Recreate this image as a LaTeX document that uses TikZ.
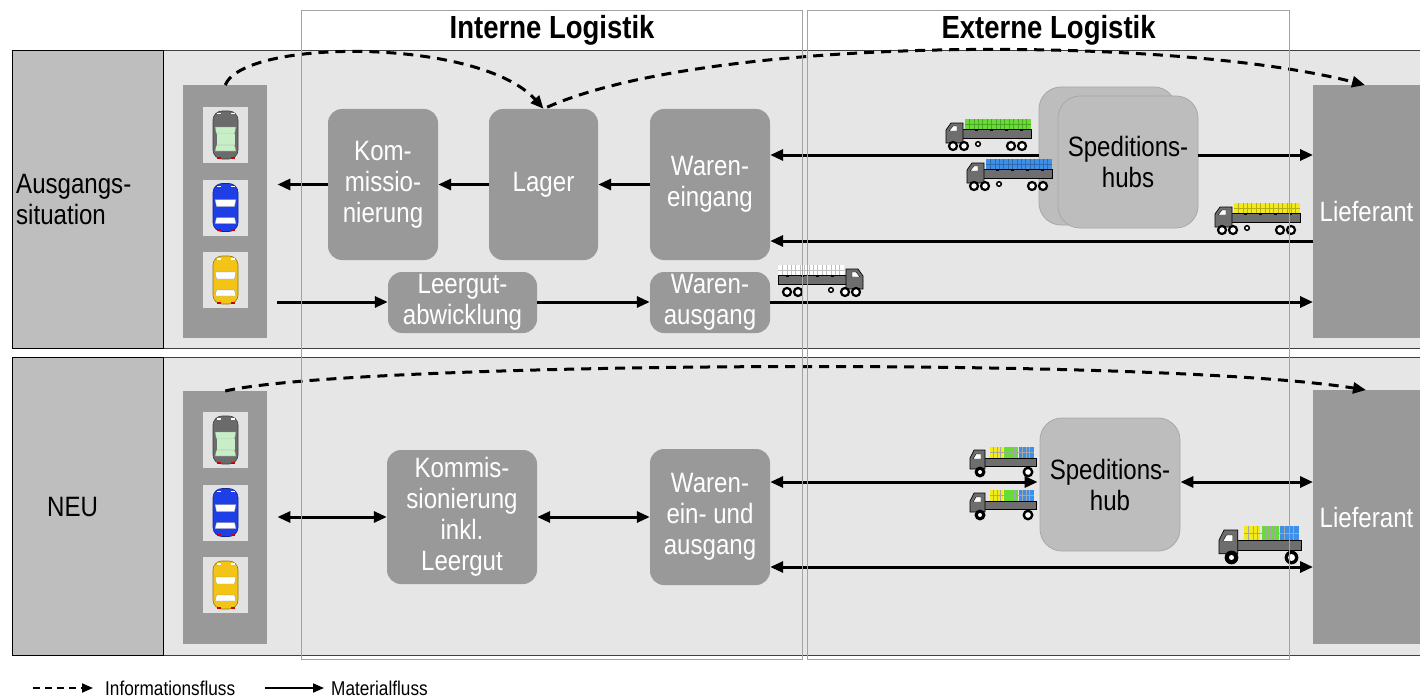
\documentclass[tikz,border=0pt]{standalone}
\usepackage{fontspec}
\setmainfont[FakeStretch=0.86]{Liberation Sans}
\usetikzlibrary{arrows.meta}

\definecolor{panelbg}{HTML}{E6E6E6}
\definecolor{labelbg}{HTML}{BEBEBE}
\definecolor{boxgray}{HTML}{999999}
\definecolor{slotbg}{HTML}{E2E2E2}
\definecolor{hubbg}{HTML}{BDBDBD}
\definecolor{hubline}{HTML}{A8A8A8}
\definecolor{framegray}{HTML}{A3A3A3}
\definecolor{truckgray}{HTML}{6E6E6E}
\definecolor{crategreen}{HTML}{66DD33}
\definecolor{crateblue}{HTML}{3D8FE8}
\definecolor{crateyellow}{HTML}{F2EA1A}
\definecolor{carblue}{HTML}{1F3FE6}
\definecolor{caryellow}{HTML}{F3C416}
\definecolor{cargreen}{HTML}{C8EEC8}
\definecolor{cargray}{HTML}{6B6B6B}

\newcommand{\procfont}{\fontsize{28}{31}\selectfont}
\newcommand{\headfont}{\fontsize{32}{36}\selectfont\bfseries}
\newcommand{\legendfont}{\fontsize{20}{23}\selectfont}

\tikzset{
  panel/.style={draw=black!75, line width=1.4pt, fill=panelbg, anchor=north west, inner sep=0pt},
  rowlabel/.style={draw=black, line width=1.4pt, fill=labelbg, anchor=north west, inner sep=0pt},
  labeltext/.style={font=\procfont, text=black, align=left, inner sep=2pt},
  column/.style={fill=boxgray, anchor=north west, inner sep=0pt, minimum width=84pt, minimum height=253pt},
  slot/.style={fill=slotbg, inner sep=0pt, minimum width=45pt, minimum height=56pt},
  proc/.style={fill=boxgray, rounded corners=14pt, text=white, align=center, font=\procfont, inner sep=0pt},
  hub/.style={fill=hubbg, draw=hubline, line width=0.8pt, rounded corners=22pt, text=black, align=center, font=\procfont, inner sep=0pt},
  supplier/.style={fill=boxgray, text=white, font=\procfont, anchor=north west, inner sep=0pt},
  frame/.style={draw=framegray, line width=1.2pt, anchor=north west, inner sep=0pt},
  headtext/.style={font=\headfont, text=black},
  mat/.style={draw=black, line width=3pt, -{Triangle[length=13pt,width=11pt]}},
  matboth/.style={draw=black, line width=3pt, {Triangle[length=13pt,width=11pt]}-{Triangle[length=13pt,width=11pt]}},
  info/.style={draw=black, line width=3pt, dash pattern=on 10pt off 7pt, -{Triangle[length=13pt,width=11pt]}},
  legendmat/.style={draw=black, line width=1.8pt, -{Triangle[length=11pt,width=9pt]}},
  legendinfo/.style={draw=black, line width=1.8pt, dash pattern=on 7pt off 5pt, -{Triangle[length=11pt,width=9pt]}},
  legendtext/.style={font=\legendfont, text=black, anchor=west, inner sep=0pt},
  % top view of a car: body colour, window colour, roof colour
  pics/auto/.style n args={3}{code={
    \filldraw[fill=#1, draw=#1!60!black, line width=0.6pt, rounded corners=9pt] (-12.5,-24) rectangle (12.5,24);
    \fill[white] (-9,-22) rectangle (-5,-20.5);
    \fill[white] (5,-22) rectangle (9,-20.5);
    \filldraw[fill=#2, draw=black!45, line width=0.3pt] (-10.5,-8) -- (10.5,-8) -- (9,-1) -- (-9,-1) -- cycle;
    \fill[#3] (-9,-1) rectangle (9,10);
    \filldraw[fill=#2, draw=black!45, line width=0.3pt] (-9,10) -- (9,10) -- (10.5,16) -- (-10.5,16) -- cycle;
    \fill[red!80!black] (-9,21.5) rectangle (-5,23.5);
    \fill[red!80!black] (5,21.5) rectangle (9,23.5);
  }},
  % side view of a lorry with trailer, cab on the left
  pics/lorry/.style={code={
    \fill[#1] (20,0) rectangle (86,10);
    \draw[#1!75!black, line width=0.3pt] (20,5) -- (86,5);
    \foreach \gx in {24.4,28.8,...,84} \draw[#1!75!black, line width=0.3pt] (\gx,0) -- (\gx,10);
    \filldraw[fill=truckgray, draw=black, line width=0.7pt] (17,10) rectangle (86,19);
    \foreach \mx in {30,45,60,75} \fill[black] (\mx,9.5) rectangle (\mx+3,11.5);
    \filldraw[fill=truckgray, draw=black, line width=0.7pt] (1,24) -- (1,11) -- (6,4) -- (18,4) -- (18,24) -- cycle;
    \filldraw[fill=white, draw=black, line width=0.4pt] (4,12) -- (8,7) -- (12,7) -- (12,12) -- cycle;
    \foreach \wx in {8,19,66,77} \filldraw[fill=white, draw=black, line width=2.2pt] (\wx,27) circle (4);
    \filldraw[fill=white, draw=black, line width=1.5pt] (33,25) circle (2.3);
  }},
  % side view of a small truck with three crates
  pics/pickup/.style={code={
    \fill[crateyellow] (20,1) rectangle (33,12);
    \fill[crategreen] (34,1) rectangle (48,12);
    \fill[crateblue] (49,1) rectangle (64,12);
    \foreach \gx in {23.5,27,30.5,37.5,41,44.5,52.5,56,59.5} \draw[black!35, line width=0.3pt] (\gx,1) -- (\gx,12);
    \draw[black!35, line width=0.3pt] (20,6.5) -- (64,6.5);
    \filldraw[fill=truckgray, draw=black, line width=0.7pt] (14,12) rectangle (66,20);
    \filldraw[fill=truckgray, draw=black, line width=0.7pt] (0,23) -- (0,12) -- (4,4) -- (15,4) -- (15,23) -- cycle;
    \filldraw[fill=white, draw=black, line width=0.4pt] (3,13) -- (6,8) -- (11,8) -- (11,13) -- cycle;
    \fill[black] (10,26) circle (5.5);
    \fill[white] (10,26) circle (2);
    \fill[black] (58,26) circle (5.5);
    \fill[white] (58,26) circle (2.8);
  }},
}

\begin{document}
\begin{tikzpicture}[x=1pt,y=-1pt]
\useasboundingbox (0,0) rectangle (1420,698);

% ---------- rows ----------
\node[panel, minimum width=1270pt, minimum height=298pt] (pan1) at (163,50) {};
\node[rowlabel, minimum width=151pt, minimum height=298pt] (lab1) at (12,50) {};
\node[labeltext, anchor=west] at ([xshift=2pt]lab1.west) {Ausgangs-\\situation};

\node[panel, minimum width=1270pt, minimum height=298pt] (pan2) at (163,357) {};
\node[rowlabel, minimum width=151pt, minimum height=298pt] (lab2) at (12,357) {};
\node[labeltext, anchor=west] at ([xshift=33pt]lab2.west) {NEU};

% ---------- car columns ----------
\node[column] (cars1) at (183,85) {};
\node[slot] (s11) at (225.5,135) {};
\node[slot] (s12) at (225.5,207.5) {};
\node[slot] (s13) at (225.5,280) {};
\pic at (s11) {auto={cargray}{cargreen}{cargreen}};
\pic at (s12) {auto={carblue}{white}{carblue}};
\pic at (s13) {auto={caryellow}{white}{caryellow}};

\node[column] (cars2) at (183,391) {};
\node[slot] (s21) at (225.5,440) {};
\node[slot] (s22) at (225.5,512.5) {};
\node[slot] (s23) at (225.5,585) {};
\pic at (s21) {auto={cargray}{cargreen}{cargreen}};
\pic at (s22) {auto={carblue}{white}{carblue}};
\pic at (s23) {auto={caryellow}{white}{caryellow}};

% ---------- current situation ----------
\node[proc, minimum width=110pt, minimum height=151pt] (komm1) at (383,184.5) {Kom-\\missio-\\nierung};
\node[proc, minimum width=109pt, minimum height=151pt] (lager) at (543.5,184.5) {Lager};
\node[proc, minimum width=120pt, minimum height=151pt] (we) at (710,184.5) {Waren-\\eingang};
\node[proc, minimum width=149pt, minimum height=61pt] (leer) at (462.5,302.5) {Leergut-\\abwicklung};
\node[proc, minimum width=120pt, minimum height=61pt] (wa) at (710,302.5) {Waren-\\ausgang};
\node[hub, minimum width=137pt, minimum height=138pt] (hubback) at (1107.5,156) {};
\node[hub, minimum width=140pt, minimum height=132pt] (hubfront) at (1128,162) {Speditions-\\hubs};
\node[supplier, minimum width=120pt, minimum height=253pt] (lief1) at (1313,85) {};
\node[font=\procfont, text=white] at (1366.5,211.5) {Lieferant};

\coordinate (yA) at (0,155);
\coordinate (yB) at (0,241);
\coordinate (yC) at (0,302);

\draw[mat, shorten >=10pt] (komm1.west) -- (komm1.west -| cars1.east);
\draw[mat] (lager.west) -- (komm1.east);
\draw[mat] (we.west) -- (lager.east);
\draw[mat] (hubback.west |- yA) -- (we.east |- yA);
\draw[mat] (hubfront.east |- yA) -- (lief1.west |- yA);
\draw[mat] (lief1.west |- yB) -- (we.east |- yB);
\draw[mat, shorten <=10pt] (cars1.east |- yC) -- (leer.west |- yC);
\draw[mat] (leer.east |- yC) -- (wa.west |- yC);
\draw[mat] (wa.east |- yC) -- (lief1.west |- yC);

\pic at (945,119) {lorry=crategreen};
\pic at (966,159) {lorry=crateblue};
\pic at (1214,203) {lorry=crateyellow};
\pic[xscale=-1] at (864,265) {lorry=white};

\draw[info] (cars1.north) .. controls (245,38) and (480,38) .. (lager.north);
\draw[info, shorten <=4pt] (lager.north) .. controls (710,35) and (1170,35) .. ([xshift=52pt]lief1.north west);

% ---------- new concept ----------
\node[proc, minimum width=150pt, minimum height=134pt] (komm2) at (462,517) {Kommis-\\sionierung\\inkl.\\Leergut};
\node[proc, minimum width=120pt, minimum height=136pt] (wea) at (710,517) {Waren-\\ein- und\\ausgang};
\node[hub, minimum width=140pt, minimum height=133pt] (hub2) at (1110,484.5) {Speditions-\\hub};
\node[supplier, minimum width=120pt, minimum height=254pt] (lief2) at (1313,390) {};
\node[font=\procfont, text=white] at (1366.5,517) {Lieferant};

\coordinate (yD) at (0,482);
\coordinate (yE) at (0,567);

\draw[matboth, shorten <=10pt] (cars2.east |- komm2.west) -- (komm2.west);
\draw[matboth] (komm2.east) -- (wea.west);
\draw[matboth, shorten >=2pt] (wea.east |- yD) -- (hub2.west |- yD);
\draw[matboth] (hub2.east |- yD) -- (lief2.west |- yD);
\draw[matboth] (wea.east |- yE) -- (lief2.west |- yE);

\pic at (970,446) {pickup};
\pic at (970,489) {pickup};
\pic[scale=1.25] at (1219,525) {pickup};

\draw[info] (cars2.north) .. controls (350,362) and (1150,356) .. ([xshift=53pt]lief2.north west);

% ---------- logistics frames ----------
\node[frame, minimum width=501pt, minimum height=649pt] (intframe) at (301,10) {};
\node[frame, minimum width=482pt, minimum height=649pt] (extframe) at (807,10) {};
\node[headtext] at ([yshift=-20pt]intframe.north) {Interne Logistik};
\node[headtext] at ([yshift=-20pt]extframe.north) {Externe Logistik};

% ---------- legend ----------
\coordinate (li0) at (33,688);
\coordinate (li1) at (93,688);
\coordinate (lm0) at (265,688);
\coordinate (lm1) at (324,688);
\draw[legendinfo] (li0) -- (li1);
\node[legendtext] (litext) at (105,688) {Informationsfluss};
\draw[legendmat] (lm0) -- (lm1);
\node[legendtext] (lmtext) at (331,688) {Materialfluss};
\end{tikzpicture}
\end{document}
